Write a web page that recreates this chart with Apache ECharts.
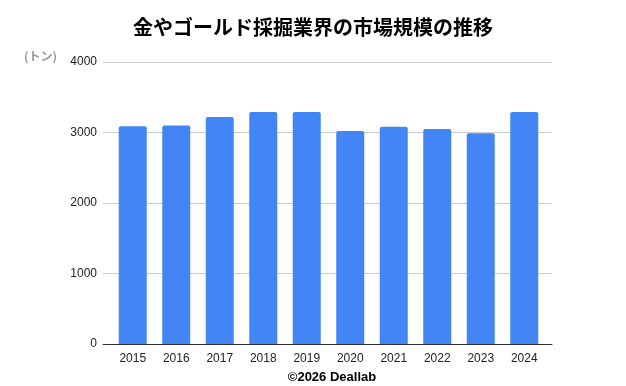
<!DOCTYPE html>
<html><head><meta charset="utf-8">
<script src="https://cdn.jsdelivr.net/npm/echarts@6/dist/echarts.min.js"></script>
<style>html,body{margin:0;padding:0;background:#fff}#c{width:626px;height:386px}</style>
</head><body><div id="c"></div>
<script>
const years = ['2015','2016','2017','2018','2019','2020','2021','2022','2023','2024'];
const values = [3090, 3100, 3220, 3290, 3290, 3020, 3080, 3050, 2990, 3290];
const yTicks = [0, 1000, 2000, 3000, 4000];
const yMin = yTicks[0], yMax = yTicks[yTicks.length - 1];

const chart = echarts.init(document.getElementById('c'));
chart.setOption({
  animation: false,
  title: [{
    text: '金やゴールド採掘業界の市場規模の推移',
    left: 'center', top: 12,
    textStyle: {fontFamily: 'Noto Sans CJK JP', fontSize: 20, fontWeight: 'bold', color: '#000'}
  }, {
    text: '(トン)', left: 19, top: 45,
    textStyle: {fontFamily: 'Noto Sans CJK JP', fontSize: 12, fontWeight: 'bold', color: '#999'}
  }, {
    text: '©2026 Deallab', left: 327, textAlign: 'center', top: 366,
    textStyle: {fontFamily: 'Liberation Sans', fontSize: 13, fontWeight: 'bold', color: '#000'}
  }],
  grid: [
    {left: 103, right: 74, top: 62, bottom: 42},
    {left: 111, right: 80, top: 62, bottom: 42}
  ],
  xAxis: [{
    gridIndex: 0, type: 'value', min: 0, max: 1,
    axisLine: {show: true, onZero: false, lineStyle: {color: '#333'}},
    axisTick: {show: false}, axisLabel: {show: false}, splitLine: {show: false}
  }, {
    gridIndex: 1, type: 'category', data: years,
    axisLine: {show: false},
    axisTick: {show: false},
    axisLabel: {fontFamily: 'Liberation Sans', fontSize: 12, color: '#222', margin: 9}
  }],
  yAxis: [{
    gridIndex: 0, type: 'value', min: yMin, max: yMax, interval: 1000,
    axisLine: {show: false}, axisTick: {show: false},
    splitLine: {lineStyle: {color: '#ccc'}},
    axisLabel: {fontFamily: 'Liberation Sans', fontSize: 12, color: '#222', margin: 6,
      formatter: v => String(v)}
  }, {
    gridIndex: 1, type: 'value', min: yMin, max: yMax, interval: 1000,
    show: false, splitLine: {show: false}
  }],
  series: [{
    type: 'bar', xAxisIndex: 1, yAxisIndex: 1, data: values, barWidth: 28,
    itemStyle: {color: '#4285F4', borderRadius: [2, 2, 0, 0]}
  }]
});
</script></body></html>
